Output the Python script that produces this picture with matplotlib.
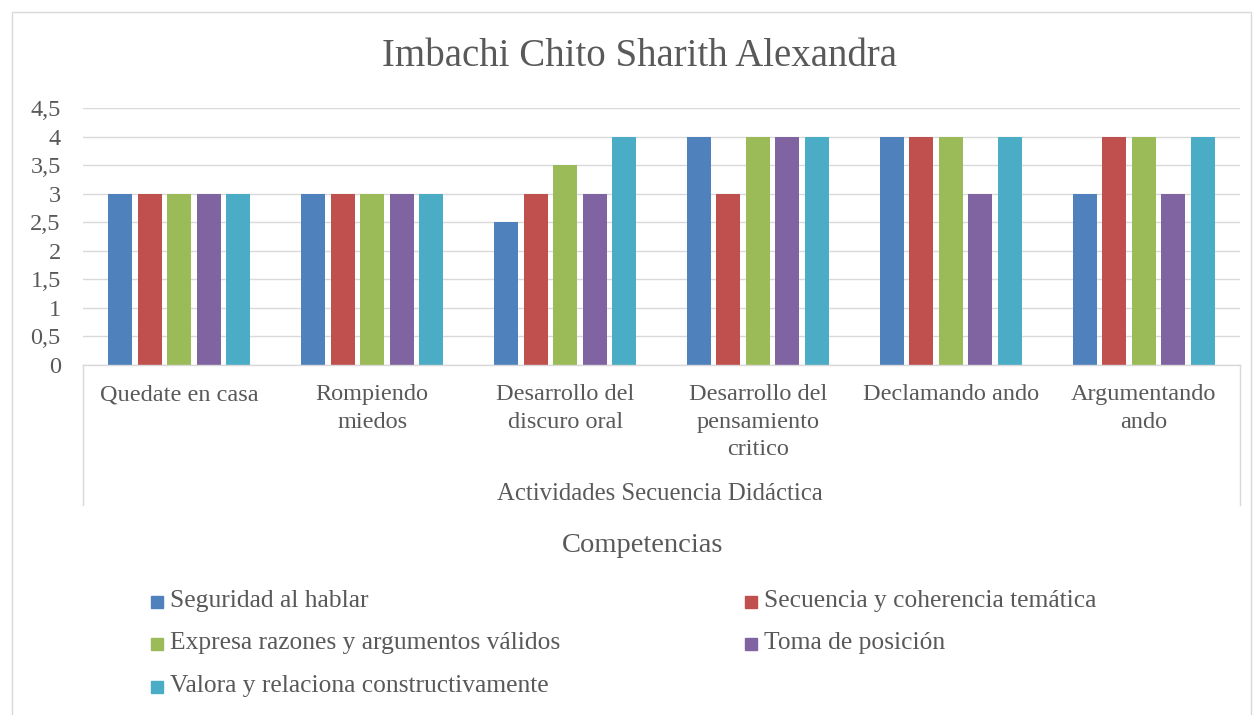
import matplotlib
matplotlib.use("Agg")
import matplotlib.pyplot as plt
import numpy as np
from matplotlib.lines import Line2D
from matplotlib.patches import Rectangle

categories = ["Quedate en casa", "Rompiendo\nmiedos", "Desarrollo del\ndiscuro oral",
              "Desarrollo del\npensamiento\ncritico", "Declamando ando", "Argumentando\nando"]
series_names = ["Seguridad al hablar", "Secuencia y coherencia temática",
                "Expresa razones y argumentos válidos", "Toma de posición",
                "Valora y relaciona constructivamente"]
seguridad = [3, 3, 2.5, 4, 4, 3]
secuencia = [3, 3, 3, 3, 4, 4]
expresa = [3, 3, 3.5, 4, 4, 4]
toma = [3, 3, 3, 4, 3, 3]
valora = [3, 3, 4, 4, 4, 4]
values = [seguridad, secuencia, expresa, toma, valora]
colors = ["#4F81BD", "#C0504D", "#9BBB59", "#8064A2", "#4BACC6"]
yticks = [0, 0.5, 1, 1.5, 2, 2.5, 3, 3.5, 4, 4.5]
ytick_labels = ["0", "0,5", "1", "1,5", "2", "2,5", "3", "3,5", "4", "4,5"]

W, H = 1256, 715
FONT = "Liberation Serif"
TXT = "#595959"
plt.rcParams['font.family'] = [FONT, 'DejaVu Serif']

fig = plt.figure(figsize=(W / 100, H / 100), dpi=100)

def fx(px):
    return px / W

def fy(py):
    return 1 - py / H

# chart border
fig.patches.append(Rectangle((fx(12), fy(720)), fx(1251) - fx(12), fy(12) - fy(720),
                             transform=fig.transFigure, fill=False, edgecolor="#D9D9D9", lw=1))

L, R, T, B = 83, 1240, 108, 365
ax = fig.add_axes([fx(L), fy(B), fx(R) - fx(L), fy(T) - fy(B)])

x = np.arange(len(categories))
bw = 0.125
step = 0.153
for i, (vals, c) in enumerate(zip(values, colors)):
    ax.bar(x + (i - 2) * step, vals, width=bw, color=c, zorder=3, label=series_names[i])

ax.set_xlim(-0.5, len(categories) - 0.5)
ax.set_ylim(0, 4.5)
ax.set_yticks(yticks)
ax.set_yticklabels(ytick_labels, fontsize=17.5, color=TXT)
ax.set_xticks(x)
ax.set_xticklabels(categories, fontsize=17.5, color=TXT, linespacing=1.38, va="top")
ax.tick_params(axis="y", length=0, pad=16)
ax.tick_params(axis="x", length=0, pad=14)
ax.grid(axis="y", color="#D9D9D9", lw=1, zorder=0)
for s in ["top", "right", "left"]:
    ax.spines[s].set_visible(False)
ax.spines["bottom"].set_color("#D9D9D9")
ax.spines["bottom"].set_linewidth(1)
ax.spines["bottom"].set_zorder(4)

# category box lines
for px in (L, R):
    fig.add_artist(Line2D([fx(px), fx(px)], [fy(B), fy(505)], transform=fig.transFigure,
                          color="#D9D9D9", lw=1))

fig.text(fx(640), fy(56), "Imbachi Chito Sharith Alexandra", ha="center", va="center",
         fontsize=28, color=TXT)
fig.text(fx(660), fy(494), "Actividades Secuencia Didáctica", ha="center", va="center",
         fontsize=17.8, color=TXT)
fig.text(fx(643), fy(545), "Competencias", ha="center", va="center", fontsize=20.5, color=TXT)

# legend
leg_pos = [(157, 601), (751, 601), (157, 643), (751, 643), (157, 686)]
for (px, py), name, c in zip(leg_pos, series_names, colors):
    fig.patches.append(Rectangle((fx(px - 6), fy(py + 7)), fx(12), 12 / H,
                                 transform=fig.transFigure, color=c))
    fig.text(fx(px + 13), fy(py), name, ha="left", va="center", fontsize=18.4, color=TXT)

fig.savefig("out.png", dpi=100)
